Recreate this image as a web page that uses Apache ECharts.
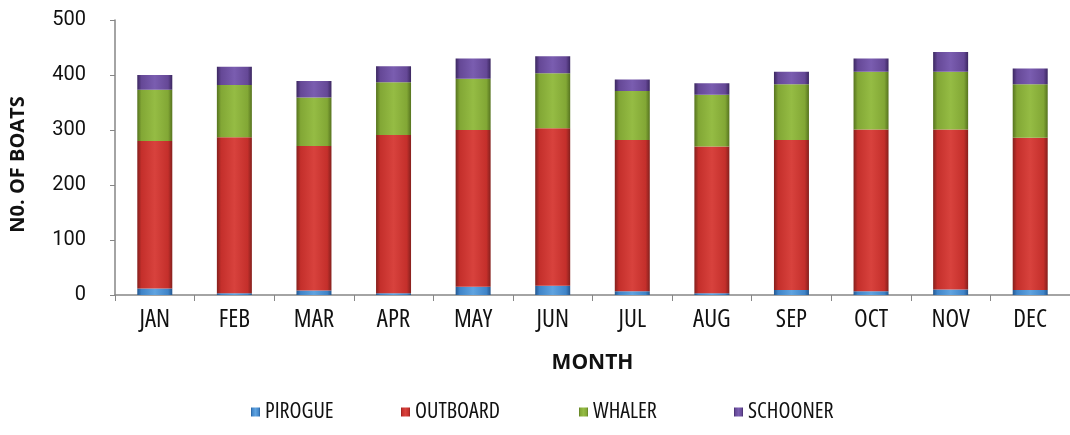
<!DOCTYPE html>
<html>
<head>
<meta charset="utf-8">
<script src="https://cdn.jsdelivr.net/npm/echarts@6/dist/echarts.min.js"></script>
<style>
html,body{margin:0;padding:0;background:#fff;}
#chart{width:1070px;height:435px;}
</style>
</head>
<body>
<div id="chart"></div>
<script>
var months = ['JAN','FEB','MAR','APR','MAY','JUN','JUL','AUG','SEP','OCT','NOV','DEC'];
var pirogue  = [12, 3, 8, 3, 15, 17, 7, 3, 9, 7, 10, 9];
var outboard = [268, 284, 263, 288, 285, 286, 275, 267, 273, 294, 291, 277];
var whaler   = [93, 95, 88, 96, 93, 100, 89, 94, 101, 105, 105, 97];
var schooner = [27, 33, 30, 29, 37, 31, 21, 21, 23, 24, 36, 29];
var yTicks = [0, 100, 200, 300, 400, 500];

function grad(c0, c1, c2) {
  return new echarts.graphic.LinearGradient(0, 0, 1, 0, [
    {offset: 0, color: c0},
    {offset: 0.12, color: c1},
    {offset: 0.5, color: c2},
    {offset: 0.88, color: c1},
    {offset: 1, color: c0}
  ]);
}
var styles = {
  PIROGUE:  grad('#24578f', '#3f84c8', '#5fa3e0'),
  OUTBOARD: grad('#85201d', '#c42f2b', '#d8423d'),
  WHALER:   grad('#56731f', '#82a735', '#95bc44'),
  SCHOONER: grad('#3b2760', '#654896', '#7a5db0')
};

var chart = echarts.init(document.getElementById('chart'), null, {renderer: 'canvas'});
function mk(name, data) {
  return {
    name: name, type: 'bar', stack: 'boats', data: data, barWidth: 35,
    itemStyle: {color: styles[name]}
  };
}
var legendFont = {fontFamily: 'Open Sans', fontStyle: 'condensed', fontSize: 22, color: '#111'};
var lg = function(name, left) {
  return {data: [name], left: left, top: 401, padding: 0, icon: 'rect', itemWidth: 9, itemHeight: 9,
          itemGap: 0, textStyle: legendFont, selectedMode: false};
};
chart.setOption({
  animation: false,
  backgroundColor: '#fff',
  grid: {left: 112, right: -6, top: 20, bottom: 140},
  legend: [lg('PIROGUE', 251), lg('OUTBOARD', 401), lg('WHALER', 579), lg('SCHOONER', 734)],
  xAxis: {
    type: 'category', data: months,
    name: 'MONTH', nameLocation: 'middle', nameGap: 58,
    nameTextStyle: {fontFamily: 'Open Sans', fontWeight: 'bold', fontSize: 21, color: '#111'},
    axisLine: {lineStyle: {color: '#868686', width: 1.5}},
    axisTick: {show: true, length: 6, lineStyle: {color: '#868686'}},
    axisLabel: {fontFamily: 'Open Sans', fontStyle: 'condensed', fontSize: 25, color: '#111', margin: 12}
  },
  yAxis: {
    type: 'value', min: yTicks[0], max: yTicks[yTicks.length - 1], interval: 100,
    name: 'N0. OF BOATS', nameLocation: 'middle', nameGap: 87,
    nameTextStyle: {fontFamily: 'Open Sans', fontWeight: 'bold', fontSize: 20, color: '#111', padding: [0, 14, 0, 0]},
    splitLine: {show: false},
    axisLine: {show: true, lineStyle: {color: '#868686', width: 1.5}},
    axisTick: {show: true, length: 5, lineStyle: {color: '#868686'}},
    axisLabel: {fontFamily: 'Roboto', fontSize: 20, color: '#111', margin: 29}
  },
  series: [
    mk('PIROGUE', pirogue),
    mk('OUTBOARD', outboard),
    mk('WHALER', whaler),
    mk('SCHOONER', schooner)
  ]
});
</script>
</body>
</html>
